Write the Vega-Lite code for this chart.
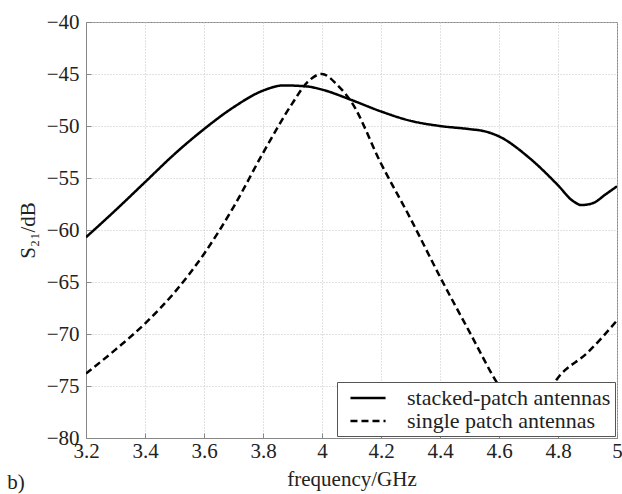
{
  "$schema": "https://vega.github.io/schema/vega-lite/v6.json",
  "width": 531,
  "height": 416,
  "autosize": {"type": "none"},
  "padding": {"left": 86, "top": 22, "right": 5, "bottom": 56},
  "background": "white",
  "config": {
    "font": "Liberation Serif",
    "view": {"stroke": "#888888", "strokeWidth": 1}
  },
  "title": {"text": "b)", "orient": "bottom", "anchor": "start", "frame": "bounds", "fontSize": 21, "fontWeight": "normal", "font": "Liberation Serif", "color": "#222222", "dx": -10, "offset": -17},
  "data": {
    "values": [
      {"f": 3.2, "v": -60.7, "s": "stacked-patch antennas"},
      {"f": 3.3, "v": -58.1, "s": "stacked-patch antennas"},
      {"f": 3.4, "v": -55.4, "s": "stacked-patch antennas"},
      {"f": 3.5, "v": -52.7, "s": "stacked-patch antennas"},
      {"f": 3.6, "v": -50.3, "s": "stacked-patch antennas"},
      {"f": 3.7, "v": -48.2, "s": "stacked-patch antennas"},
      {"f": 3.8, "v": -46.6, "s": "stacked-patch antennas"},
      {"f": 3.87, "v": -46.1, "s": "stacked-patch antennas"},
      {"f": 3.95, "v": -46.2, "s": "stacked-patch antennas"},
      {"f": 4.0, "v": -46.5, "s": "stacked-patch antennas"},
      {"f": 4.1, "v": -47.5, "s": "stacked-patch antennas"},
      {"f": 4.2, "v": -48.6, "s": "stacked-patch antennas"},
      {"f": 4.3, "v": -49.5, "s": "stacked-patch antennas"},
      {"f": 4.4, "v": -50.0, "s": "stacked-patch antennas"},
      {"f": 4.5, "v": -50.3, "s": "stacked-patch antennas"},
      {"f": 4.55, "v": -50.5, "s": "stacked-patch antennas"},
      {"f": 4.6, "v": -51.0, "s": "stacked-patch antennas"},
      {"f": 4.7, "v": -53.0, "s": "stacked-patch antennas"},
      {"f": 4.8, "v": -55.7, "s": "stacked-patch antennas"},
      {"f": 4.85, "v": -57.2, "s": "stacked-patch antennas"},
      {"f": 4.88, "v": -57.6, "s": "stacked-patch antennas"},
      {"f": 4.92, "v": -57.4, "s": "stacked-patch antennas"},
      {"f": 4.96, "v": -56.6, "s": "stacked-patch antennas"},
      {"f": 5.0, "v": -55.8, "s": "stacked-patch antennas"},
      {"f": 3.2, "v": -73.8, "s": "single patch antennas"},
      {"f": 3.3, "v": -71.5, "s": "single patch antennas"},
      {"f": 3.4, "v": -69.0, "s": "single patch antennas"},
      {"f": 3.5, "v": -66.0, "s": "single patch antennas"},
      {"f": 3.6, "v": -62.3, "s": "single patch antennas"},
      {"f": 3.7, "v": -57.8, "s": "single patch antennas"},
      {"f": 3.8, "v": -52.6, "s": "single patch antennas"},
      {"f": 3.9, "v": -47.8, "s": "single patch antennas"},
      {"f": 3.95, "v": -45.8, "s": "single patch antennas"},
      {"f": 4.0, "v": -45.0, "s": "single patch antennas"},
      {"f": 4.05, "v": -46.0, "s": "single patch antennas"},
      {"f": 4.1, "v": -47.7, "s": "single patch antennas"},
      {"f": 4.2, "v": -53.6, "s": "single patch antennas"},
      {"f": 4.3, "v": -58.9, "s": "single patch antennas"},
      {"f": 4.4, "v": -64.5, "s": "single patch antennas"},
      {"f": 4.5, "v": -69.8, "s": "single patch antennas"},
      {"f": 4.6, "v": -75.0, "s": "single patch antennas"},
      {"f": 4.65, "v": -77.0, "s": "single patch antennas"},
      {"f": 4.7, "v": -77.8, "s": "single patch antennas"},
      {"f": 4.75, "v": -76.3, "s": "single patch antennas"},
      {"f": 4.8, "v": -74.2, "s": "single patch antennas"},
      {"f": 4.9, "v": -71.8, "s": "single patch antennas"},
      {"f": 5.0, "v": -68.7, "s": "single patch antennas"}
    ]
  },
  "mark": {"type": "line", "color": "black", "strokeWidth": 2.5, "interpolate": "monotone", "clip": true},
  "encoding": {
    "x": {
      "field": "f", "type": "quantitative",
      "scale": {"domain": [3.2, 5.0], "nice": false, "zero": false},
      "axis": {
        "title": "frequency/GHz", "titleFont": "Liberation Serif", "titleFontSize": 21, "titleFontWeight": "normal", "titleColor": "#222222", "titlePadding": 7,
        "values": [3.2, 3.4, 3.6, 3.8, 4.0, 4.2, 4.4, 4.6, 4.8, 5.0], "format": "~g",
        "labelFont": "Liberation Serif", "labelFontSize": 21, "labelColor": "#222222", "labelPadding": 7,
        "labelFlush": false, "labelOverlap": false,
        "domainColor": "#888888", "tickColor": "#888888", "tickSize": -5,
        "grid": true, "gridColor": "#c4c4c4", "gridDash": [1, 2], "gridWidth": 1
      }
    },
    "y": {
      "field": "v", "type": "quantitative",
      "scale": {"domain": [-80, -40], "nice": false, "zero": false},
      "axis": {
        "title": "S₂₁/dB", "titleFont": "Liberation Serif", "titleFontSize": 21, "titleFontWeight": "normal", "titleColor": "#222222", "titlePadding": 8,
        "values": [-80, -75, -70, -65, -60, -55, -50, -45, -40],
        "labelFont": "Liberation Serif", "labelFontSize": 21, "labelColor": "#222222", "labelPadding": 12,
        "labelFlush": false, "labelOverlap": false,
        "domainColor": "#888888", "tickColor": "#888888", "tickSize": -5,
        "grid": true, "gridColor": "#c4c4c4", "gridDash": [1, 2], "gridWidth": 1
      }
    },
    "strokeDash": {
      "field": "s", "type": "nominal",
      "scale": {"domain": ["stacked-patch antennas", "single patch antennas"], "range": [[1, 0], [7, 4]]},
      "legend": {
        "title": null, "orient": "bottom-right", "offset": 2,
        "fillColor": "white", "strokeColor": "#555555", "padding": 4,
        "symbolType": "M-0.24,0H3.1", "symbolStrokeColor": "black", "symbolFillColor": "transparent", "symbolStrokeWidth": 2.5, "symbolSize": 441,
        "labelFont": "Liberation Serif", "labelFontSize": 22, "labelColor": "#222222", "labelLimit": 320, "labelOffset": 42,
        "rowPadding": 0
      }
    }
  }
}
